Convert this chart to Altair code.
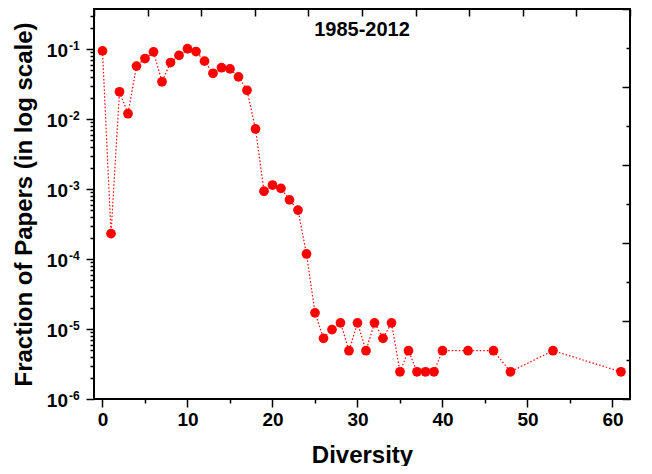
import altair as alt
import pandas as pd

# ---- data ----
diversity = [0, 1, 2, 3, 4, 5, 6, 7, 8, 9, 10, 11, 12, 13, 14, 15, 16, 17, 18, 19,
             20, 21, 22, 23, 24, 25, 26, 27, 28, 29, 30, 31, 32, 33, 34, 35, 36, 37,
             38, 39, 40, 43, 46, 48, 53, 61]
fraction = [0.094, 2.3e-4, 0.0245, 0.0119, 0.057, 0.073, 0.091, 0.034, 0.064, 0.081,
            0.101, 0.092, 0.067, 0.045, 0.054, 0.052, 0.040, 0.0257, 0.0072, 9.3e-4,
            1.14e-3, 1.02e-3, 7.0e-4, 5.0e-4, 1.18e-4, 1.7e-5, 7.35e-6, 9.8e-6, 1.225e-5,
            4.9e-6, 1.225e-5, 4.9e-6, 1.225e-5, 7.35e-6, 1.225e-5, 2.45e-6, 4.9e-6,
            2.45e-6, 2.45e-6, 2.45e-6, 4.9e-6, 4.9e-6, 4.9e-6, 2.45e-6, 4.9e-6, 2.45e-6]

x_ticks = [0, 5, 10, 15, 20, 25, 30, 35, 40, 45, 50, 55, 60]
decades = [1e-1, 1e-2, 1e-3, 1e-4, 1e-5, 1e-6]
decade_base = ["10"] * 6
decade_exp = ["-1", "-2", "-3", "-4", "-5", "-6"]
y_minor = [m * d for d in [1e-6, 1e-5, 1e-4, 1e-3, 1e-2] for m in range(2, 10)] + [0.2, 0.3]
frame_ticks = list(range(11))
title_text = "1985-2012"

W, H = 536, 390
FONT = "Liberation Sans"
x_domain = [-1.0, 62.06]
y_domain = [1e-6, 10 ** (-6 + H / 70.0)]

df = pd.DataFrame({"x": diversity, "y": fraction})
dec_df = pd.DataFrame({"y": decades, "base": decade_base, "exp": decade_exp})

xscale = alt.Scale(domain=x_domain, nice=False, zero=False)
yscale = alt.Scale(type="log", domain=y_domain, nice=False)

x_axis = alt.Axis(
    values=x_ticks,
    labelExpr="datum.value % 10 == 0 ? datum.label : ''",
    tickSize={"condition": {"test": "datum.value % 10 == 0", "value": 8}, "value": 4},
    tickWidth=1.5, tickColor="black", domain=False, grid=False,
    labelFont=FONT, labelFontSize=19, labelFontWeight="bold", labelColor="black",
    labelPadding=3,
    title="Diversity", titleFont=FONT, titleFontSize=24, titleFontWeight="bold",
    titleColor="black", titlePadding=14,
)
y_axis = alt.Axis(
    values=decades + y_minor,
    labels=False,
    tickSize={"condition": {"test": "abs(log(datum.value)/LN10 - round(log(datum.value)/LN10)) < 0.001", "value": 8}, "value": 4},
    tickWidth=1.5, tickColor="black", domain=False, grid=False,
    title="Fraction of Papers (in log scale)", titleFont=FONT, titleFontSize=24,
    titleFontWeight="bold", titleColor="black", titlePadding=49,
)

X = alt.X("x:Q", scale=xscale, axis=x_axis)
Y = alt.Y("y:Q", scale=yscale, axis=y_axis)

line = alt.Chart(df).mark_line(color="#ff0000", strokeWidth=1.2, strokeDash=[1.5, 2]).encode(x=X, y=Y)
pts = alt.Chart(df).mark_circle(color="#ff0000", size=95, opacity=1).encode(x="x:Q", y="y:Q")

lab_base = alt.Chart(dec_df).mark_text(
    font=FONT, fontSize=19, fontWeight="bold", color="black", align="right",
    baseline="alphabetic", dy=8
).encode(y="y:Q", x=alt.value(-26), text="base:N")
lab_exp = alt.Chart(dec_df).mark_text(
    font=FONT, fontSize=12, fontWeight="bold", color="black", align="left",
    baseline="alphabetic", dy=0.5
).encode(y="y:Q", x=alt.value(-25), text="exp:N")

title = alt.Chart(pd.DataFrame({"t": [title_text]})).mark_text(
    font=FONT, fontSize=20, fontWeight="bold", color="black", align="center",
    baseline="alphabetic"
).encode(x=alt.value(W / 2), y=alt.value(27), text="t:N")

main = alt.layer(line, pts, lab_base, lab_exp, title)

fdf = pd.DataFrame({"a": frame_ticks, "b": frame_ticks})
frame = alt.Chart(fdf).mark_point(opacity=0).encode(
    x=alt.X("a:Q", scale=alt.Scale(domain=[0, 10], nice=False),
            axis=alt.Axis(orient="bottom", offset=-H, values=frame_ticks, labels=False,
                          tickSize=7, tickWidth=1.5, tickColor="black", domain=False,
                          grid=False, title=None)),
    y=alt.Y("b:Q", scale=alt.Scale(domain=[0, 10], nice=False),
            axis=alt.Axis(orient="left", offset=-W, values=frame_ticks, labels=False,
                          tickSize={"condition": {"test": "datum.value % 2 == 0", "value": 8}, "value": 4},
                          tickWidth=1.5, tickColor="black", domain=False,
                          grid=False, title=None)),
)

chart = alt.layer(main, frame).resolve_scale(x="independent", y="independent").properties(
    width=W, height=H,
    autosize=alt.AutoSizeParams(type="none"),
    padding={"left": 86, "top": 1, "right": 14, "bottom": 67},
    background="white",
).configure_view(stroke="black", strokeWidth=2)

chart.save("out.html", embed_options={"renderer": "svg", "actions": False})
